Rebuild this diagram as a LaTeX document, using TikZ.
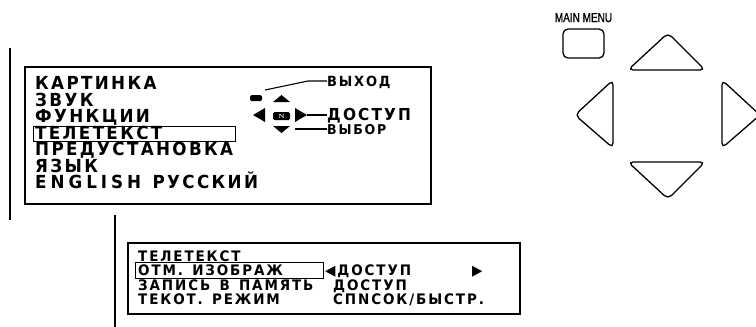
\documentclass[tikz,border=0pt]{standalone}
\usepackage{fontspec}
\usetikzlibrary{positioning,calc}
\newfontfamily\osdfont[FakeStretch=0.93,LetterSpace=13,WordSpace=1.8]{DejaVu Sans}
\newfontfamily\subfont[FakeStretch=0.93,LetterSpace=13,WordSpace=1.4]{DejaVu Sans}
\newfontfamily\keyfont[FakeStretch=0.77,FakeBold=1]{Liberation Sans}
\tikzset{
  menutxt/.style={anchor=base west, inner sep=0pt, font={\frenchspacing\osdfont\bfseries\fontsize{18}{18}\selectfont}},
  subtxt/.style={anchor=base west, inner sep=0pt, font={\frenchspacing\subfont\bfseries\fontsize{14.5}{14.5}\selectfont}},
  legtxt/.style={anchor=base west, inner sep=0pt, font={\osdfont\bfseries\fontsize{#1}{#1}\selectfont}},
  screen/.style={draw, line width=1.4pt},
  cursor/.style={draw, line width=0.9pt},
  lead/.style={line width=1.1pt},
  keybtn/.style={draw, line width=1.3pt, rounded corners=5pt},
}
\begin{document}
\begin{tikzpicture}[x=1pt,y=-1pt]
  \useasboundingbox (0,0) rectangle (756,327);
  \draw[line width=1.4pt] (10,48) -- (10,220);
  \draw[line width=1.4pt] (115,215) -- (115,327);
  % main menu screen
  \draw[screen] (25,67) rectangle (431,204);
  \draw[cursor] (33,126) rectangle (235,141);
  \node[menutxt] (m1) at (35,89.5) {КАРТИНКА};
  \node[menutxt] (m2) at (35,106) {ЗВУК};
  \node[menutxt] (m3) at (35,122.3) {ФУНКЦИИ};
  \node[menutxt] (m4) at (35,139) {ТЕЛЕТЕКСТ};
  \node[menutxt] (m5) at (35,155.5) {ПРЕДУСТАНОВКА};
  \node[menutxt] (m6) at (35,172) {ЯЗЫК};
  \node[menutxt] (m7) at (35,188.5) {{\addfontfeature{LetterSpace=22}ENGLISH} РУССКИЙ};
  % legend
  \fill[rounded corners=1.5pt] (250,95) rectangle (262,101);
  \fill (273,102) -- (281.5,95) -- (290,102) -- cycle;
  \fill (265,108) -- (253,115) -- (265,122) -- cycle;
  \fill (273,126) -- (281.5,133) -- (290,126) -- cycle;
  \fill (295,108) -- (307,115) -- (295,122) -- cycle;
  \node[fill=black, text=white, rounded corners=1.5pt, inner sep=0pt, minimum width=17pt,
        minimum height=8pt, font=\bfseries\fontsize{6}{6}\selectfont] (nkey) at (281.5,116) {N};
  \coordinate (exitk) at (265,90);
  \coordinate (rightk) at (307,115);
  \coordinate (downk) at (295,129);
  \node[legtxt=14] (lexit) at (327,86) {ВЫХОД};
  \node[legtxt=16.5] (lacc) at (327,120.5) {ДОСТУП};
  \node[legtxt=13.5] (lsel) at (327,134) {ВЫБОР};
  \draw[lead] (exitk) -- (308,81) -- (lexit.west |- 308,81);
  \draw[lead] (rightk) -- (rightk -| lacc.west);
  \draw[lead] (downk) -- (downk -| lsel.west);
  % teletext submenu
  \draw[screen] (128,243) rectangle (520,314);
  \draw[cursor] (135,262.5) rectangle (323,278.5);
  \node[subtxt] (t1) at (138,261) {ТЕЛЕТЕКСТ};
  \node[subtxt] (t2) at (138,275.5) {ОТМ. ИЗОБРАЖ};
  \node[subtxt] (t3) at (138,290) {ЗАПИСЬ В ПАМЯТЬ};
  \node[subtxt] (t4) at (138,304) {ТЕКОТ. РЕЖИМ};
  \node[subtxt] (v2) at (325,275.5) {◀ДОСТУП};
  \node[subtxt] (v2b) at (472,275.5) {▶};
  \node[subtxt] (v3) at (333,290) {ДОСТУП};
  \node[subtxt] (v4) at (333,304) {СПNСОК/БЫСТР.};
  % remote keys
  \node[keybtn, minimum width=41pt, minimum height=29pt] (mmkey) at (583.5,43.5) {};
  \node[font={\keyfont\fontsize{13}{13}\selectfont}, inner sep=0pt, above=6pt of mmkey] (mmlbl) {MAIN MENU};
  \draw[keybtn] (628,70) -- (668,33) -- (705,70) -- cycle;
  \draw[keybtn] (613,80) -- (575,115) -- (613,148) -- cycle;
  \draw[keybtn] (722,80) -- (760,115) -- (722,148) -- cycle;
  \draw[keybtn] (628,162) -- (705,162) -- (668,199) -- cycle;
\end{tikzpicture}
\end{document}
